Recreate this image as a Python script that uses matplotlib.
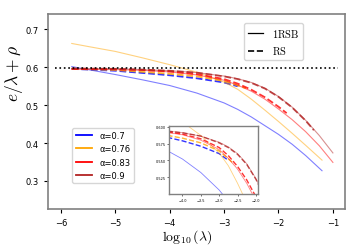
import numpy as np
import matplotlib
matplotlib.use('Agg')
import matplotlib.pyplot as plt
from matplotlib.lines import Line2D

plt.rcParams['mathtext.fontset'] = 'cm'

# --- data ---
alphas = ['α=0.7', 'α=0.76', 'α=0.83', 'α=0.9']
colors = ['blue', 'orange', 'red', 'firebrick']

# 1RSB (solid)
x_1rsb = [
    [-5.8, -5.5, -5.0, -4.5, -4.0, -3.5, -3.0, -2.75, -2.5, -2.25, -2.0, -1.75, -1.5, -1.2],
    [-5.8, -5.5, -5.0, -4.5, -4.0, -3.5, -3.0, -2.75, -2.5, -2.25, -2.0, -1.75, -1.5, -1.2],
    [-5.8, -5.0, -4.5, -4.0, -3.5, -3.0, -2.75, -2.5, -2.25, -2.0, -1.75, -1.5, -1.25, -1.0],
    [-5.8, -5.0, -4.5, -4.0, -3.5, -3.0, -2.75, -2.5, -2.25, -2.0, -1.75, -1.5, -1.25, -1.0],
]
y_1rsb = [
    [0.602, 0.594, 0.581, 0.567, 0.552, 0.532, 0.506, 0.489, 0.469, 0.446, 0.423, 0.397, 0.367, 0.327],
    [0.663, 0.655, 0.642, 0.625, 0.607, 0.587, 0.561, 0.542, 0.516, 0.487, 0.457, 0.426, 0.394, 0.355],
    [0.595, 0.594, 0.592, 0.588, 0.580, 0.566, 0.553, 0.537, 0.516, 0.490, 0.462, 0.430, 0.393, 0.349],
    [0.597, 0.596, 0.594, 0.591, 0.586, 0.577, 0.570, 0.560, 0.545, 0.523, 0.495, 0.460, 0.420, 0.374],
]

# RS (dashed)
x_rs = [
    [-5.8, -5.0, -4.4, -4.0, -3.5, -3.0, -2.75],
    [-5.8, -5.0, -4.4, -4.0, -3.5, -3.0, -2.6],
    [-5.8, -5.0, -4.5, -4.0, -3.5, -3.0, -2.75, -2.5, -2.25, -2.0, -1.85],
    [-5.8, -5.0, -4.5, -4.0, -3.5, -3.0, -2.75, -2.5, -2.25, -2.0, -1.75, -1.5, -1.35],
]
y_rs = [
    [0.596, 0.591, 0.584, 0.579, 0.571, 0.560, 0.550],
    [0.596, 0.593, 0.587, 0.583, 0.576, 0.564, 0.545],
    [0.596, 0.595, 0.593, 0.589, 0.582, 0.569, 0.557, 0.541, 0.521, 0.496, 0.479],
    [0.597, 0.596, 0.594, 0.591, 0.586, 0.576, 0.569, 0.559, 0.544, 0.522, 0.494, 0.459, 0.434],
]

e_ref = 0.598


def draw(ax, lw_s, lw_d):
    for i in range(4):
        ax.plot(x_1rsb[i], y_1rsb[i], color=colors[i], lw=lw_s, alpha=0.5)
        ax.plot(x_rs[i], y_rs[i], '--', color=colors[i], lw=lw_d, alpha=0.8)


fig = plt.figure(figsize=(3.57, 2.53), dpi=100)
ax = fig.add_axes([0.134, 0.170, 0.832, 0.771])
draw(ax, 0.8, 1.3)
ax.plot([-6.1, -0.9], [e_ref, e_ref], ':', color='black', lw=1.2)

ax.set_xlim(-6.24, -0.78)
ax.set_ylim(0.226, 0.741)
ax.set_xticks([-6, -5, -4, -3, -2, -1])
ax.set_yticks([0.3, 0.4, 0.5, 0.6, 0.7])
ax.tick_params(labelsize=6, width=0.8, length=3)
for s in ax.spines.values():
    s.set_color('gray')
    s.set_linewidth(1.2)
ax.set_xlabel(r'$\log_{10}(\lambda)$', fontsize=10)
ax.set_ylabel(r'$e/\lambda+\rho$', fontsize=12.5)
ax.xaxis.set_label_coords(0.471, -0.095)
ax.yaxis.set_label_coords(-0.077, 0.70)

h_alpha = [Line2D([], [], color=c, lw=1.3) for c in colors]
leg2 = ax.legend(h_alpha, alphas, loc='lower left', bbox_to_anchor=(0.083, 0.133),
                 borderaxespad=0, fontsize=6)
ax.add_artist(leg2)
h_style = [Line2D([], [], color='black', lw=0.9), Line2D([], [], color='black', lw=1.2, ls='--')]
ax.legend(h_style, [r'$\mathrm{1RSB}$', r'$\mathrm{RS}$'], loc='upper right',
          bbox_to_anchor=(0.86, 0.954), borderaxespad=0, fontsize=7.5, handlelength=1.5)

# inset
axin = fig.add_axes([0.473, 0.229, 0.25, 0.269])
draw(axin, 0.6, 1.0)
axin.set_xlim(-4.37, -1.94)
axin.set_ylim(0.5, 0.601)
axin.set_xticks([-4.0, -3.5, -3.0, -2.5, -2.0])
axin.set_yticks([0.525, 0.550, 0.575, 0.600])
axin.set_yticklabels(['0.525', '0.550', '0.575', '0.600'])
axin.tick_params(labelsize=2.5, width=0.4, length=1.5, pad=1)
for s in axin.spines.values():
    s.set_color('gray')
    s.set_linewidth(1.0)

fig.savefig('out.png', dpi=100)
